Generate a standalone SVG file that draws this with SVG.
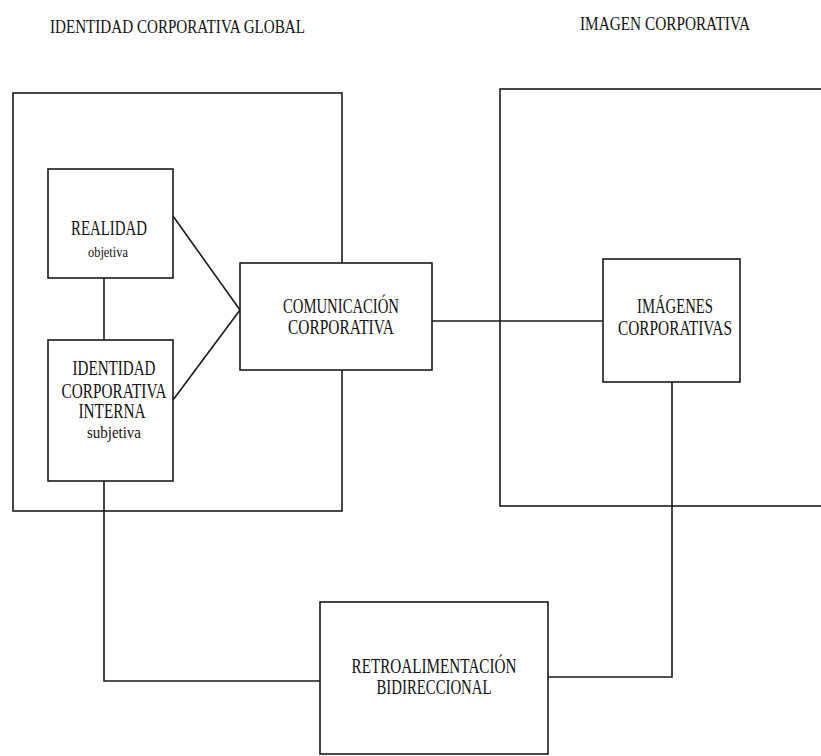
<svg xmlns="http://www.w3.org/2000/svg" width="821" height="756" viewBox="0 0 821 756">
<style>
.box{fill:none;stroke:#1a1a1a;stroke-width:1.6}
.node{fill:#fff;stroke:#1a1a1a;stroke-width:1.6}
.ln{fill:none;stroke:#1a1a1a;stroke-width:1.6}
text{font-family:"Liberation Serif","Times New Roman",serif;fill:#111;text-anchor:middle}
.t{font-size:20px}
.s{font-size:15px}
.h{font-size:19px;text-anchor:start}
</style>
<rect width="821" height="756" fill="#fff"/>
<g id="titles">
<text class="h" x="50" y="33" textLength="255" lengthAdjust="spacingAndGlyphs">IDENTIDAD CORPORATIVA GLOBAL</text>
<text class="h" x="580" y="30" textLength="170" lengthAdjust="spacingAndGlyphs">IMAGEN CORPORATIVA</text>
</g>
<g id="identidad-global">
<rect class="box" x="13" y="93" width="329" height="418"/>
</g>
<g id="imagen-corporativa">
<rect class="box" x="500" y="89" width="340" height="417"/>
</g>
<g id="connectors">
<line class="ln" x1="104" y1="278" x2="104" y2="340"/>
<line class="ln" x1="173" y1="216" x2="240" y2="310"/>
<line class="ln" x1="173" y1="400" x2="240" y2="310"/>
<line class="ln" x1="432" y1="321" x2="603" y2="321"/>
<polyline class="ln" points="104,481 104,681 320,681"/>
<polyline class="ln" points="672,382 672,677 548,677"/>
</g>
<g id="realidad">
<rect class="node" x="48" y="169" width="125" height="109"/>
<text class="t" x="109" y="235" textLength="76" lengthAdjust="spacingAndGlyphs">REALIDAD</text>
<text class="s" x="108" y="257" textLength="40" lengthAdjust="spacingAndGlyphs">objetiva</text>
</g>
<g id="identidad-interna">
<rect class="node" x="48" y="340" width="125" height="141"/>
<text class="t" x="114" y="375" textLength="83" lengthAdjust="spacingAndGlyphs">IDENTIDAD</text>
<text class="t" x="114" y="398" textLength="105" lengthAdjust="spacingAndGlyphs">CORPORATIVA</text>
<text class="t" x="112" y="418" textLength="67" lengthAdjust="spacingAndGlyphs">INTERNA</text>
<text class="t" x="114" y="438" style="font-size:17px" textLength="54" lengthAdjust="spacingAndGlyphs">subjetiva</text>
</g>
<g id="comunicacion">
<rect class="node" x="240" y="263" width="192" height="107"/>
<text class="t" x="341" y="313" textLength="116" lengthAdjust="spacingAndGlyphs">COMUNICACIÓN</text>
<text class="t" x="341" y="334" textLength="106" lengthAdjust="spacingAndGlyphs">CORPORATIVA</text>
</g>
<g id="imagenes">
<rect class="node" x="603" y="259" width="137" height="123"/>
<text class="t" x="675" y="313" textLength="76" lengthAdjust="spacingAndGlyphs">IMÁGENES</text>
<text class="t" x="675" y="335" textLength="114" lengthAdjust="spacingAndGlyphs">CORPORATIVAS</text>
</g>
<g id="retroalimentacion">
<rect class="node" x="320" y="602" width="228" height="152"/>
<text class="t" x="434" y="673" textLength="165" lengthAdjust="spacingAndGlyphs">RETROALIMENTACIÓN</text>
<text class="t" x="434" y="694" textLength="115" lengthAdjust="spacingAndGlyphs">BIDIRECCIONAL</text>
</g>
</svg>
